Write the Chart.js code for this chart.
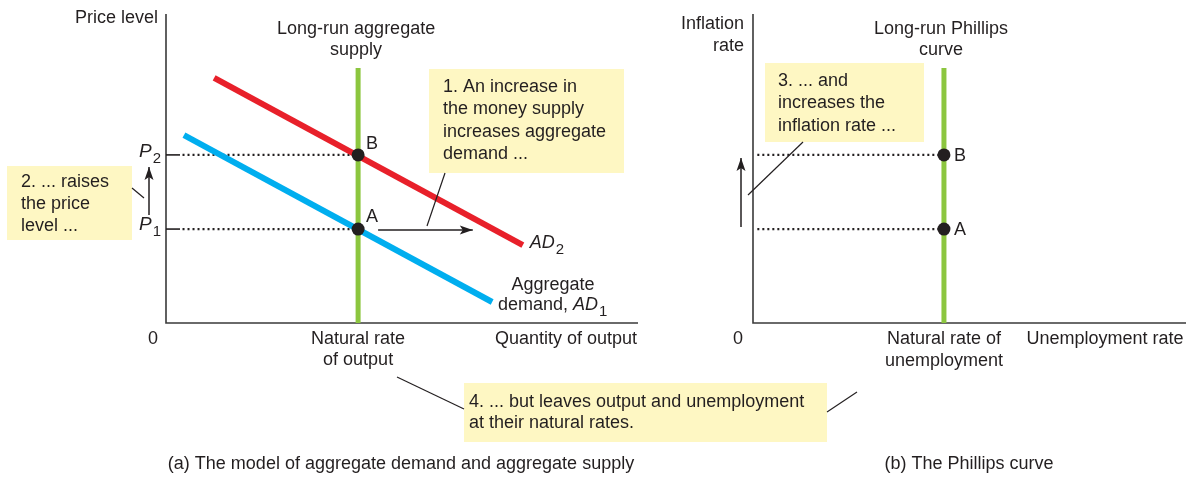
<!DOCTYPE html>
<html>
<head>
<meta charset="utf-8">
<script src="https://cdn.jsdelivr.net/npm/chart.js@4.4.1/dist/chart.umd.min.js"></script>
<style>
  html, body { margin: 0; padding: 0; background: #ffffff; }
  #wrap { position: relative; width: 1199px; height: 481px; overflow: hidden; }
  #wrap canvas { position: absolute; left: 0; top: 0; }
</style>
</head>
<body>
<div id="wrap">
  <canvas id="adas" width="1199" height="481"></canvas>
  <canvas id="phillips" width="1199" height="481"></canvas>
</div>
<script>
// ---- Panel (a): aggregate demand and aggregate supply (axes run 0..100) ----
const naturalOutput = 40.7;              // long-run aggregate supply position
const lrasTop = 82.5;                    // top end of the vertical LRAS line
const priceLevels = [30.4, 54.4];        // P1, P2
const priceSubscripts = ['1', '2'];
const ad1Line = [[3.8, 60.8], [69.1, 6.8]];
const ad2Line = [[10.2, 79.3], [75.6, 25.2]];
const demandShiftEnd = 65.0;             // tip of the rightward shift arrow
const pointNames = ['A', 'B'];

// ---- Panel (b): the Phillips curve (axes run 0..100) ----
const naturalUnemployment = 44.1;
const lrpcTop = 82.5;
const inflationRates = [30.4, 54.4];     // at A, at B

// axis / tick labels
const adasXLabels = ['Natural rate', 'of output'];
const adasXTitle = 'Quantity of output';
const adasYTitle = ['Price level'];
const pcXLabels = ['Natural rate of', 'unemployment'];
const pcXTitle = 'Unemployment rate';
const pcYTitle = ['Inflation', 'rate'];
const originLabel = '0';
const lrasTitle = ['Long-run aggregate', 'supply'];
const lrpcTitle = ['Long-run Phillips', 'curve'];
const captionA = '(a) The model of aggregate demand and aggregate supply';
const captionB = '(b) The Phillips curve';
const note1 = ['1. An increase in', 'the money supply', 'increases aggregate', 'demand ...'];
const note2 = ['2. ... raises', 'the price', 'level ...'];
const note3 = ['3. ... and', 'increases the', 'inflation rate ...'];
const note4 = ['4. ... but leaves output and unemployment', 'at their natural rates.'];

const FONT = '"Liberation Sans", Arial, Helvetica, sans-serif';
const INK = '#231f20';
const NOTE_FILL = '#fef7c3';
const RED = '#e8202a', BLUE = '#00aeef', GREEN = '#8cc63f';

function setFont(ctx, size, italic) {
  ctx.font = (italic ? 'italic ' : '') + size + 'px ' + FONT;
}
function text(ctx, s, x, y, align, size, italic) {
  setFont(ctx, size || 18, italic);
  ctx.fillStyle = INK;
  ctx.textAlign = align || 'left';
  ctx.textBaseline = 'middle';
  ctx.fillText(s, x, y);
}
// parts: [text, italic, subscript]
function richText(ctx, parts, x, y, align, bigSize) {
  const big = bigSize || 18, small = 15;
  let w = 0;
  const widths = parts.map(p => {
    setFont(ctx, p[2] ? small : big, p[1]);
    const m = ctx.measureText(p[0]).width;
    w += m; return m;
  });
  let cx = align === 'center' ? x - w / 2 : (align === 'right' ? x - w : x);
  parts.forEach((p, i) => {
    text(ctx, p[0], cx + (p[2] ? 1 : 0), p[2] ? y + 7 : y, 'left', p[2] ? small : big, p[1]);
    cx += widths[i];
  });
}
function lines(ctx, arr, x, y, lh, align) {
  arr.forEach((s, i) => text(ctx, s, x, y + i * lh, align));
}
function note(ctx, x, y, w, h, arr, tx, ty, lh) {
  ctx.fillStyle = NOTE_FILL;
  ctx.fillRect(x, y, w, h);
  lines(ctx, arr, tx, ty, lh, 'left');
}
function seg(ctx, x1, y1, x2, y2, width) {
  ctx.save();
  ctx.strokeStyle = INK; ctx.lineWidth = width || 1.2; ctx.setLineDash([]);
  ctx.beginPath(); ctx.moveTo(x1, y1); ctx.lineTo(x2, y2); ctx.stroke();
  ctx.restore();
}
function arrow(ctx, x1, y1, x2, y2) {
  seg(ctx, x1, y1, x2, y2, 1.5);
  const a = Math.atan2(y2 - y1, x2 - x1), L = 13, W = 4.5;
  ctx.save();
  ctx.fillStyle = INK;
  ctx.translate(x2, y2); ctx.rotate(a);
  ctx.beginPath();
  ctx.moveTo(0, 0); ctx.lineTo(-L, -W); ctx.lineTo(-L + 3, 0); ctx.lineTo(-L, W);
  ctx.closePath(); ctx.fill();
  ctx.restore();
}
function axes(ctx, area) {
  ctx.save();
  ctx.strokeStyle = '#3a3a3a'; ctx.lineWidth = 1.6; ctx.setLineDash([]);
  ctx.beginPath();
  ctx.moveTo(area.left, area.top);
  ctx.lineTo(area.left, area.bottom);
  ctx.lineTo(area.right, area.bottom);
  ctx.stroke();
  ctx.restore();
}

const pts = arr => arr.map(p => ({ x: p[0], y: p[1] }));
const lineSet = (data, color, width, order, dash) => ({
  type: 'scatter', data, showLine: true, borderColor: color, borderWidth: width,
  pointRadius: 0, fill: false, tension: 0, order, clip: false,
  borderDash: dash || [], borderCapStyle: 'butt'
});
const dotSet = (data) => ({
  type: 'scatter', data, showLine: false, pointRadius: 6.5, pointHoverRadius: 6.5,
  pointBackgroundColor: INK, pointBorderWidth: 0, order: 0, clip: false
});
const hiddenScales = {
  x: { type: 'linear', min: 0, max: 100, display: false },
  y: { type: 'linear', min: 0, max: 100, display: false }
};
const baseOptions = (padding) => ({
  responsive: false, animation: false, events: [],
  layout: { padding },
  scales: hiddenScales,
  plugins: { legend: { display: false }, tooltip: { enabled: false } }
});

// ---------------- Panel (a) ----------------
const adasDecor = {
  id: 'adasDecor',
  beforeDatasetsDraw(chart) {
    const ctx = chart.ctx, a = chart.chartArea;
    axes(ctx, a);
    const y = chart.scales.y;
    priceLevels.forEach(p => seg(ctx, a.left, y.getPixelForValue(p), a.left + 14, y.getPixelForValue(p), 1.6));
  },
  afterDraw(chart) {
    const ctx = chart.ctx, a = chart.chartArea, sx = chart.scales.x, sy = chart.scales.y;
    const xN = sx.getPixelForValue(naturalOutput);
    const yP1 = sy.getPixelForValue(priceLevels[0]), yP2 = sy.getPixelForValue(priceLevels[1]);

    // axis titles and tick labels
    text(ctx, adasYTitle[0], a.left - 8, 18, 'right');
    text(ctx, originLabel, a.left - 13, a.bottom + 16, 'center');
    lines(ctx, adasXLabels, xN, a.bottom + 16, 21, 'center');
    text(ctx, adasXTitle, 566, a.bottom + 16, 'center');
    lines(ctx, lrasTitle, xN - 2, 29, 21, 'center');
    richText(ctx, [['P', true], [priceSubscripts[1], false, true]], a.left - 6, yP2 - 3, 'right', 19);
    richText(ctx, [['P', true], [priceSubscripts[0], false, true]], a.left - 6, yP1 - 4, 'right', 19);

    // point names
    text(ctx, pointNames[1], xN + 14, yP2 - 11, 'center');
    text(ctx, pointNames[0], xN + 14, yP1 - 12, 'center');

    // curve labels
    const e2 = ad2Line[1];
    richText(ctx, [['AD', true], ['2', false, true]], sx.getPixelForValue(e2[0]) + 7, sy.getPixelForValue(e2[1]) - 2, 'left');
    text(ctx, 'Aggregate', 553, 285, 'center');
    richText(ctx, [['demand, ', false], ['AD', true], ['1', false, true]], 498, 305, 'left');

    // rightward shift of demand
    arrow(ctx, xN + 20, yP1 + 1, sx.getPixelForValue(demandShiftEnd), yP1 + 1);
    // rise in the price level
    arrow(ctx, a.left - 17, yP1 - 14, a.left - 17, yP2 + 12);

    // notes
    note(ctx, 429, 69, 195, 104, note1, 443, 87, 22.5);
    seg(ctx, 445, 173, 427, 226);
    note(ctx, 7, 166, 125, 74, note2, 21, 182, 22);
    seg(ctx, 132, 188, 144, 198);

    text(ctx, captionA, 401, 464, 'center');
  }
};

new Chart(document.getElementById('adas'), {
  type: 'scatter',
  data: {
    datasets: [
      dotSet([{ x: naturalOutput, y: priceLevels[0] }, { x: naturalOutput, y: priceLevels[1] }]),
      lineSet(pts(ad1Line), BLUE, 6, 1),
      lineSet(pts(ad2Line), RED, 6, 1),
      lineSet([{ x: naturalOutput, y: 0 }, { x: naturalOutput, y: lrasTop }], GREEN, 5, 2),
      lineSet([{ x: 3.5, y: priceLevels[1] }, { x: naturalOutput, y: priceLevels[1] }], INK, 2.2, 3, [2, 3]),
      lineSet([{ x: 3.5, y: priceLevels[0] }, { x: naturalOutput, y: priceLevels[0] }], INK, 2.2, 3, [2, 3])
    ]
  },
  options: baseOptions({ left: 166, right: 1199 - 638, top: 14, bottom: 481 - 323 }),
  plugins: [adasDecor]
});

// ---------------- Panel (b) ----------------
const pcDecor = {
  id: 'pcDecor',
  beforeDatasetsDraw(chart) { axes(chart.ctx, chart.chartArea); },
  afterDraw(chart) {
    const ctx = chart.ctx, a = chart.chartArea, sx = chart.scales.x, sy = chart.scales.y;
    const xN = sx.getPixelForValue(naturalUnemployment);
    const yA = sy.getPixelForValue(inflationRates[0]), yB = sy.getPixelForValue(inflationRates[1]);

    lines(ctx, pcYTitle, a.left - 9, 24, 22, 'right');
    text(ctx, originLabel, a.left - 15, a.bottom + 16, 'center');
    lines(ctx, pcXLabels, xN, a.bottom + 16, 22, 'center');
    text(ctx, pcXTitle, 1105, a.bottom + 16, 'center');
    lines(ctx, lrpcTitle, xN - 3, 29, 21, 'center');

    text(ctx, pointNames[1], xN + 16, yB + 1, 'center');
    text(ctx, pointNames[0], xN + 16, yA + 1, 'center');

    // rise in the inflation rate
    arrow(ctx, a.left - 12, yA - 2, a.left - 12, yB + 3);

    note(ctx, 765, 63, 159, 79, note3, 778, 81, 22.5);
    seg(ctx, 803, 142, 748, 195);

    // shared note spanning both panels
    note(ctx, 464, 383, 363, 59, note4, 469, 402, 21.5);
    seg(ctx, 464, 409, 397, 377);
    seg(ctx, 827, 412, 857, 392);

    text(ctx, captionB, 969, 464, 'center');
  }
};

new Chart(document.getElementById('phillips'), {
  type: 'scatter',
  data: {
    datasets: [
      dotSet([{ x: naturalUnemployment, y: inflationRates[0] }, { x: naturalUnemployment, y: inflationRates[1] }]),
      lineSet([{ x: naturalUnemployment, y: 0 }, { x: naturalUnemployment, y: lrpcTop }], GREEN, 5, 2),
      lineSet([{ x: 1, y: inflationRates[1] }, { x: naturalUnemployment, y: inflationRates[1] }], INK, 2.2, 3, [2, 3]),
      lineSet([{ x: 1, y: inflationRates[0] }, { x: naturalUnemployment, y: inflationRates[0] }], INK, 2.2, 3, [2, 3])
    ]
  },
  options: baseOptions({ left: 753, right: 1199 - 1186, top: 14, bottom: 481 - 323 }),
  plugins: [pcDecor]
});
</script>
</body>
</html>
